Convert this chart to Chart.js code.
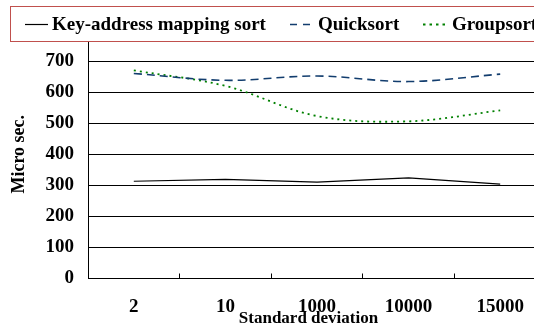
<!DOCTYPE html>
<html>
<head>
<meta charset="utf-8">
<script src="https://cdn.jsdelivr.net/npm/chart.js@4"></script>
<style>
html,body{margin:0;padding:0;background:#fff;overflow:hidden;width:534px;height:327px;}
canvas{display:block;}
</style>
</head>
<body>
<canvas id="c" width="546" height="327"></canvas>
<script>
const categories = ['2', '10', '1000', '10000', '15000'];
const keyAddress = [313, 319, 310, 324, 304];
const quicksort = [660, 638, 652, 634, 658];
const groupsort = [670, 620, 523, 506, 541];
const seriesNames = ['Key-address mapping sort', 'Quicksort', 'Groupsort'];
const yTicks = [0, 100, 200, 300, 400, 500, 600, 700, 800];

const FONT = '"Liberation Serif", "Times New Roman", serif';

const legendLayout = {
  box: {x: 10.5, y: 6.5, w: 540, h: 35},
  sampleX: [25, 290, 423],
  sampleW: [23, 20, 24],
  sampleDash: [[], [7, 6], [2.5, 4]],
  textX: [52, 318, 452],
  y: 24
};

const overlayLegend = {
  id: 'overlayLegend',
  afterDraw(chart) {
    const ctx = chart.ctx;
    const L = legendLayout;
    ctx.save();
    ctx.fillStyle = '#ffffff';
    ctx.fillRect(L.box.x, L.box.y, L.box.w, L.box.h);
    ctx.strokeStyle = '#c0504d';
    ctx.lineWidth = 1;
    ctx.strokeRect(L.box.x, L.box.y, L.box.w, L.box.h);
    chart.data.datasets.forEach((ds, i) => {
      ctx.beginPath();
      ctx.strokeStyle = ds.borderColor;
      ctx.lineWidth = ds.borderWidth;
      ctx.setLineDash(L.sampleDash[i]);
      ctx.moveTo(L.sampleX[i], L.y + 0.5);
      ctx.lineTo(L.sampleX[i] + L.sampleW[i], L.y + 0.5);
      ctx.stroke();
      ctx.setLineDash([]);
      ctx.fillStyle = '#000';
      ctx.font = 'bold 19px ' + FONT;
      ctx.textBaseline = 'middle';
      ctx.textAlign = 'left';
      ctx.fillText(ds.label, L.textX[i], L.y + 1);
    });
    ctx.restore();
  }
};

new Chart(document.getElementById('c'), {
  type: 'line',
  data: {
    labels: categories,
    datasets: [
      {label: seriesNames[0], data: keyAddress, borderColor: '#000000', borderWidth: 1.2, tension: 0, pointRadius: 0, fill: false},
      {label: seriesNames[1], data: quicksort, borderColor: '#123d6e', borderWidth: 1.6, borderDash: [8, 5], tension: 0.35, pointRadius: 0, fill: false},
      {label: seriesNames[2], data: groupsort, borderColor: '#008000', borderWidth: 1.8, borderDash: [2, 4], tension: 0.35, pointRadius: 0, fill: false}
    ]
  },
  options: {
    responsive: false,
    animation: false,
    events: [],
    layout: {padding: {top: 30, right: 0, bottom: 0, left: 0}},
    plugins: {legend: {display: false}, tooltip: {enabled: false}},
    scales: {
      x: {
        offset: true,
        grid: {display: true, drawOnChartArea: false, offset: true, tickLength: -5, color: '#000', lineWidth: 1},
        border: {display: true, color: '#000', width: 1},
        ticks: {color: '#000', padding: 22, font: {family: FONT, size: 19, weight: 'bold'}, maxRotation: 0, autoSkip: false},
        title: {display: true, text: 'Standard deviation    ', color: '#000', padding: 0, font: {family: FONT, size: 17, weight: 'bold', lineHeight: 1}},
        afterFit(scale) { scale.height = 48.5; }
      },
      y: {
        min: 0,
        max: 800,
        afterBuildTicks(scale) { scale.ticks = yTicks.map(v => ({value: v})); },
        grid: {color: '#000', lineWidth: 1, drawTicks: false},
        border: {display: true, color: '#000', width: 1},
        ticks: {color: '#000', padding: 14, font: {family: FONT, size: 19, weight: 'bold'}},
        title: {display: true, text: 'Micro sec.', color: '#000', padding: {top: 9, bottom: 0}, font: {family: FONT, size: 18, weight: 'bold'}},
        afterFit(scale) { scale.width = 88; }
      }
    }
  },
  plugins: [overlayLegend]
});
</script>
</body>
</html>
